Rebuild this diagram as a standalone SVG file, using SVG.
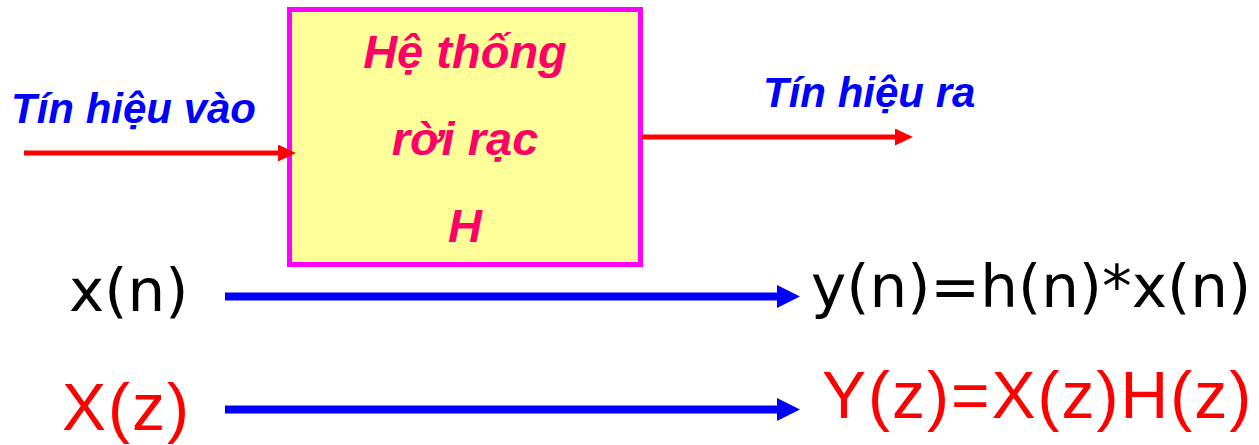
<svg xmlns="http://www.w3.org/2000/svg" width="1259" height="445" viewBox="0 0 1259 445">
<style>
.lbl{font-family:"Liberation Sans",Arial,sans-serif;font-weight:bold;font-style:italic;font-size:42px;fill:#0000FF}
.box{font-family:"Liberation Sans",Arial,sans-serif;font-weight:bold;font-style:italic;font-size:47px;fill:#FF0066;text-anchor:middle}
.eqb{font-family:"DejaVu Sans",Verdana,sans-serif;font-size:59.5px;fill:#000000}
.eqr{font-family:"Liberation Sans",Arial,sans-serif;font-size:66px;fill:#FF0000;letter-spacing:2px}
.red{stroke:#FF0000;stroke-width:5;fill:none}
.blue{stroke:#0000FF;stroke-width:8;fill:none}
</style>
<defs>
<marker id="hr" markerUnits="userSpaceOnUse" markerWidth="18" markerHeight="17" refX="1" refY="8.5" orient="auto">
<path d="M0,0 L18,8.5 L0,17 Z" fill="#FF0000"/>
</marker>
<marker id="hb" markerUnits="userSpaceOnUse" markerWidth="23" markerHeight="23" refX="1" refY="11.5" orient="auto">
<path d="M0,0 L23,11.5 L0,23 Z" fill="#0000FF"/>
</marker>
</defs>
<g id="system">
<rect x="289.5" y="9.5" width="351" height="255" fill="#FFFF99" stroke="#FF00FF" stroke-width="5"/>
<text class="box" x="465" y="68">Hệ thống</text>
<text class="box" x="465" y="155">rời rạc</text>
<text class="box" x="465" y="242">H</text>
</g>
<g id="input-label"><text class="lbl" x="11" y="123">Tín hiệu vào</text></g>
<g id="output-label"><text class="lbl" x="763" y="107">Tín hiệu ra</text></g>
<g id="xn"><text class="eqb" x="69" y="311">x(n)</text></g>
<g id="yn"><text class="eqb" x="811" y="307">y(n)=h(n)*x(n)</text></g>
<g id="Xz"><text class="eqr" x="62" y="430">X(z)</text></g>
<g id="Yz"><text class="eqr" x="822" y="418">Y(z)=X(z)H(z)</text></g>
<g id="connectors">
<line class="red" x1="24" y1="153" x2="279" y2="153" marker-end="url(#hr)"/>
<line class="red" x1="642" y1="137" x2="896" y2="137" marker-end="url(#hr)"/>
<line class="blue" x1="225" y1="296.5" x2="778" y2="296.5" marker-end="url(#hb)"/>
<line class="blue" x1="225" y1="409.5" x2="778" y2="409.5" marker-end="url(#hb)"/>
</g>
</svg>
